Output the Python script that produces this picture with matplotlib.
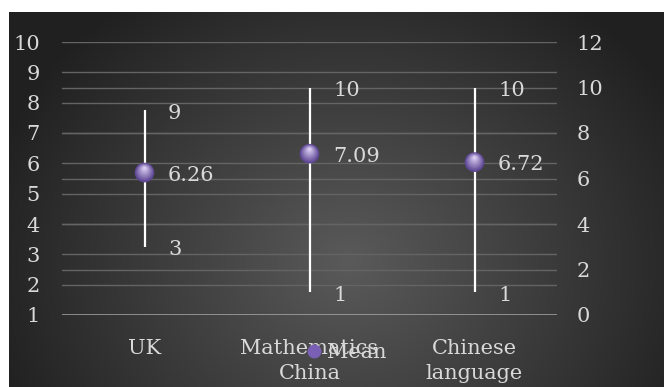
import numpy as np
import matplotlib
matplotlib.use("Agg")
import matplotlib.pyplot as plt
import matplotlib.transforms as mtransforms
from matplotlib.lines import Line2D

# dados
categorias = ["UK", "Mathematics\nChina", "Chinese\nlanguage"]
maximos = [9, 10, 10]
minimos = [3, 1, 1]
medias = [6.26, 7.09, 6.72]
ticks_esq = [1, 2, 3, 4, 5, 6, 7, 8, 9, 10]
ticks_dir = [0, 2, 4, 6, 8, 10, 12]

cor_texto = "#d9d9d9"
cor_grade = "#646464"
roxo = "#7a60b4"

plt.rcParams["font.family"] = ["DejaVu Serif"]

W, H = 664, 387
fig = plt.figure(figsize=(W / 100, H / 100), dpi=100)
fig.patch.set_facecolor("white")

# fundo com gradiente radial
bg = fig.add_axes([9 / W, 0, (W - 9) / W, (H - 12) / H])
bg.set_axis_off()
yy, xx = np.mgrid[0:H - 12, 0:W - 9]
cx, cy = 340, 250
r = np.sqrt(((xx - cx) / 390.0) ** 2 + ((yy - cy) / 340.0) ** 2)
v = 0x5a * (1 - r) + 0x1e * r
v = np.clip(v, 0x20, 0x5a) / 255.0
bg.imshow(np.dstack([v, v, v]), aspect="auto", extent=[0, 1, 0, 1], origin="upper")
bg.set_xlim(0, 1)
bg.set_ylim(0, 1)

# eixo principal
ax = fig.add_axes([62 / W, (H - 315) / H, 495 / W, 273 / H])
ax.set_facecolor("none")
ax.set_xlim(-0.5, 2.5)
ax.set_ylim(1, 10)
ax.set_yticks(ticks_esq)
for s in ax.spines.values():
    s.set_visible(False)
ax.tick_params(axis="y", length=0, pad=16, labelsize=15, labelcolor=cor_texto)
ax.tick_params(axis="x", length=0, pad=17, labelsize=15, labelcolor=cor_texto)
ax.set_xticks(range(len(categorias)))
ax.set_xticklabels(categorias, linespacing=1.4)
for t in ticks_esq[1:]:
    ax.axhline(t, color=cor_grade, lw=1.0, zorder=1)
ax.axhline(1, color="#a8a8a8", lw=1.8, zorder=2)

ax2 = ax.twinx()
ax2.set_ylim(0, 12)
ax2.set_yticks(ticks_dir)
for s in ax2.spines.values():
    s.set_visible(False)
ax2.tick_params(axis="y", length=0, pad=14, labelsize=15, labelcolor=cor_texto)
for t in ticks_dir[1:-1]:
    ax2.axhline(t, color=cor_grade, lw=1.0, zorder=1)

x = np.arange(len(categorias))
ax2.vlines(x, minimos, maximos, color="white", lw=1.6, zorder=3)

# bolinhas com brilho
n = 8
for i in range(n):
    f = i / (n - 1)
    tam = 200 * (1 - 0.85 * f) ** 2
    c = np.array([0x5e, 0x47, 0x93]) * (1 - f) + np.array([0xd8, 0xcc, 0xf2]) * f
    off = mtransforms.ScaledTranslation(0, 3.2 * f / 72, fig.dpi_scale_trans)
    ax2.scatter(x, medias, s=tam, color=c / 255.0, edgecolors="none", zorder=4 + i,
                transform=ax2.transData + off)

for xi, mx, mn, me in zip(x, maximos, minimos, medias):
    for val, txt in [(mx, str(mx)), (mn, str(mn)), (me, "%.2f" % me)]:
        ax2.annotate(txt, (xi, val), xytext=(17, -2), textcoords="offset points",
                     ha="left", va="center", fontsize=15, color=cor_texto, zorder=20)

h = Line2D([], [], marker="o", ls="none", markersize=10, markerfacecolor=roxo,
           markeredgecolor="none")
leg = fig.legend([h], ["Mean"], loc="center", bbox_to_anchor=(347 / W, (H - 353) / H),
                 frameon=False, fontsize=15, handlelength=0.6, handletextpad=0.3,
                 borderpad=0, labelcolor=cor_texto)

fig.savefig("out.png", dpi=100, facecolor=fig.get_facecolor())
